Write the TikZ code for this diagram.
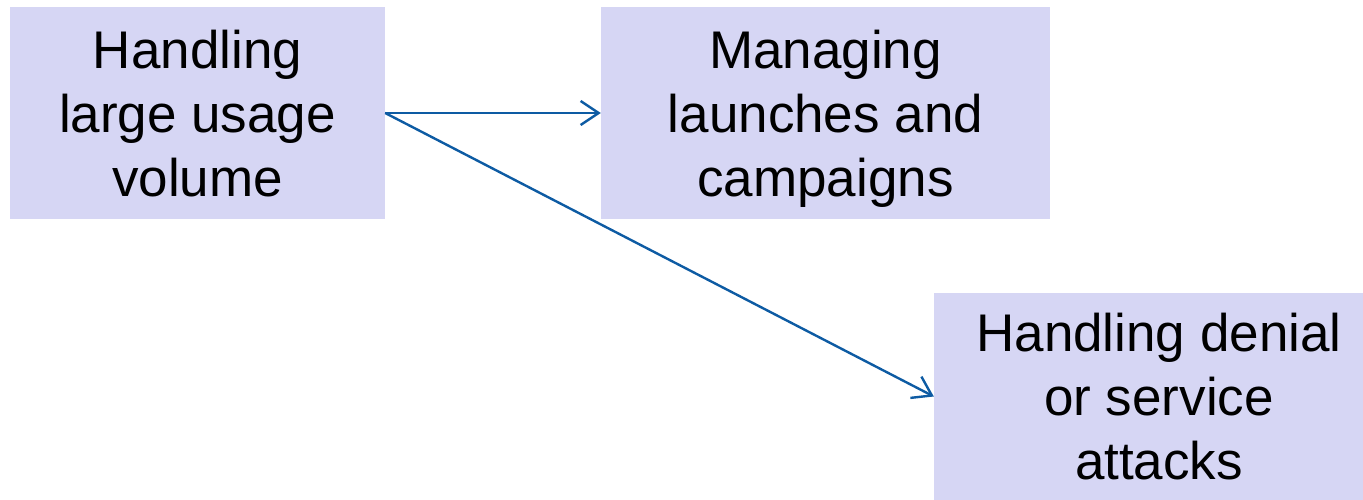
\documentclass[tikz,border=0pt]{standalone}
\usepackage{fontspec}
\setmainfont{Liberation Sans}
\usetikzlibrary{positioning,arrows.meta}
\definecolor{cBox}{HTML}{D6D6F4}
\definecolor{cArrow}{HTML}{0D5BA3}

\tikzset{
  topicbox/.style={fill=cBox,inner sep=0pt,align=center,text depth=0pt,
    font=\fontsize{53}{64}\selectfont},
  flow/.style={draw=cArrow,line width=2.4pt,
    -{Straight Barb[length=18pt,width=24pt,line width=2.4pt]}}
}

\begin{document}
\begin{tikzpicture}[x=1pt,y=1pt]
        \useasboundingbox (0,0) rectangle (1363,500);
        \node[topicbox,minimum width=375pt,minimum height=212pt] (usage) at (197.5,387)
          {Handling\\large usage\\volume};
        \node[topicbox,minimum width=449pt,minimum height=212pt] (launch) at (825.5,387)
          {Managing\\launches and\\campaigns};
        \node[topicbox,minimum width=429pt,minimum height=207pt] (denial) at (1148.5,103.5)
          {\hspace{21pt}Handling denial\\\hspace{21pt}or service\\\hspace{21pt}attacks};
        \draw[flow] (usage.east) -- (launch.west);
        \draw[flow] (usage.east) -- (denial.west);
      \end{tikzpicture}
\end{document}
